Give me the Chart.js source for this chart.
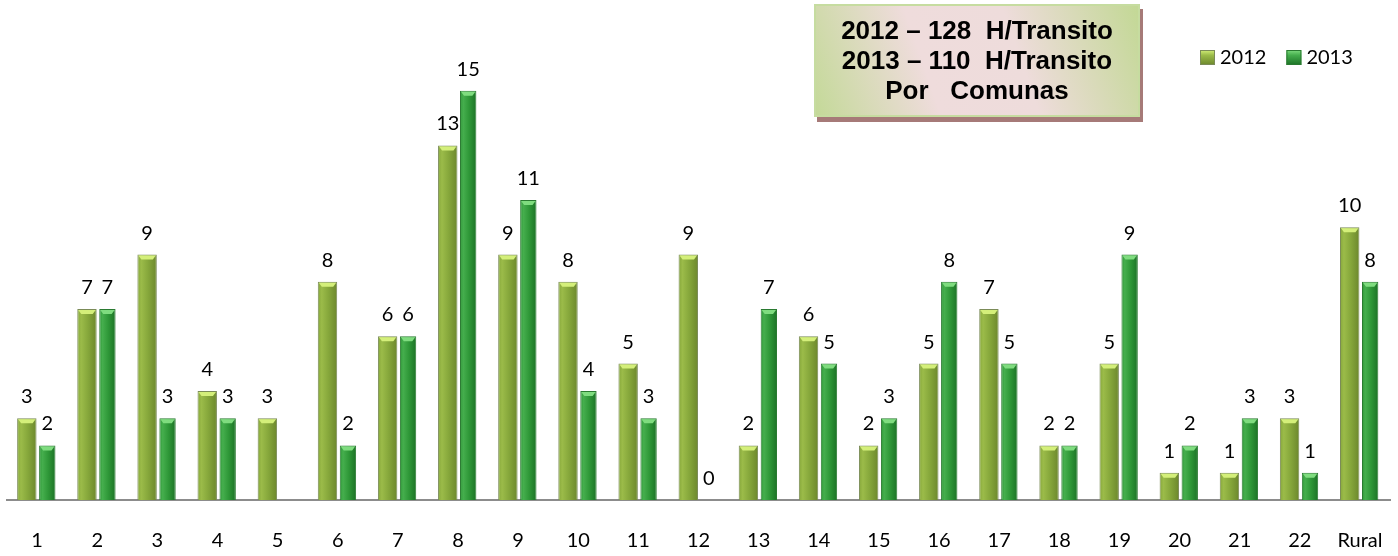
<!DOCTYPE html>
<html lang="es">
<head>
<meta charset="UTF-8">
<title>H/Transito por Comunas</title>
<script src="https://cdn.jsdelivr.net/npm/chart.js"></script>
<style>
  body { margin: 0; background: #fff; }
  #wrap { width: 1398px; height: 556px; position: relative; }
</style>
</head>
<body>
<div id="wrap"><canvas id="chart"></canvas></div>
<script>
// data
const categories = ['1', '2', '3', '4', '5', '6', '7', '8', '9', '10', '11', '12',
  '13', '14', '15', '16', '17', '18', '19', '20', '21', '22', 'Rural'];
const values2012 = [3, 7, 9, 4, 3, 8, 6, 13, 9, 8, 5, 9, 2, 6, 2, 5, 7, 2, 5, 1, 1, 3, 10];
const values2013 = [2, 7, 3, 3, null, 2, 6, 15, 11, 4, 3, 0, 7, 5, 3, 8, 5, 2, 9, 2, 3, 1, 8];
const seriesNames = ['2012', '2013'];
const boxLines = ['2012 – 128  H/Transito', '2013 – 110  H/Transito', 'Por   Comunas'];

// colours per series: dark edge, light side, middle, border, top cap
const palette = [
  { dark: '#6c872c', light: '#9bbb49', mid: '#86a73b', border: '#7b8b58', cap: '#d4ef7a' },
  { dark: '#1c7226', light: '#45ae4d', mid: '#2f9838', border: '#2a7a31', cap: '#7fdc7f' }
];

const FONT = 'Lato, "Open Sans", sans-serif';

function barGradient(ctx, left, right, c) {
  const g = ctx.createLinearGradient(left, 0, right, 0);
  g.addColorStop(0, c.mid);
  g.addColorStop(0.2, c.light);
  g.addColorStop(0.55, c.mid);
  g.addColorStop(1, c.dark);
  return g;
}

// gives every bar its own horizontal shading, based on where the library placed it
const shadePlugin = {
  id: 'shade',
  beforeDatasetsDraw(chart) {
    const ctx = chart.ctx;
    chart.data.datasets.forEach((ds, i) => {
      const c = palette[i];
      chart.getDatasetMeta(i).data.forEach(el => {
        const left = el.x - el.width / 2;
        el.options = Object.assign({}, el.options, {
          backgroundColor: barGradient(ctx, left, left + el.width, c)
        });
      });
    });
  },
  afterDatasetsDraw(chart) {
    const ctx = chart.ctx;
    ctx.save();
    chart.data.datasets.forEach((ds, i) => {
      const c = palette[i];
      chart.getDatasetMeta(i).data.forEach((el, j) => {
        const v = ds.data[j];
        if (v === null || v === undefined) return;
        const left = el.x - el.width / 2;
        const right = el.x + el.width / 2;
        if (v > 0) {
          // bevelled top
          ctx.fillStyle = c.cap;
          ctx.beginPath();
          ctx.moveTo(left + 1, el.y + 1);
          ctx.lineTo(right - 1, el.y + 1);
          ctx.lineTo(right - 4, el.y + 5);
          ctx.lineTo(left + 4, el.y + 5);
          ctx.closePath();
          ctx.fill();
        }
        // value label
        ctx.fillStyle = '#000';
        ctx.font = '20px ' + FONT;
        ctx.textAlign = 'center';
        ctx.textBaseline = 'alphabetic';
        ctx.fillText(String(v), el.x, el.y - 15);
      });
    });
    ctx.restore();
  },
  afterDraw(chart) {
    const ctx = chart.ctx;
    ctx.save();

    // title box
    const bx = 814, by = 4, bw = 326, bh = 113;
    ctx.fillStyle = '#a67a78';
    ctx.fillRect(bx + 3, by + 5, bw, bh);
    const g = ctx.createLinearGradient(bx, by + bh, bx + bw, by);
    g.addColorStop(0, '#c3d997');
    g.addColorStop(0.35, '#efdcdc');
    g.addColorStop(0.62, '#eedcdb');
    g.addColorStop(1, '#c2d894');
    ctx.fillStyle = g;
    ctx.fillRect(bx, by, bw, bh);
    ctx.strokeStyle = '#c6dca0';
    ctx.lineWidth = 2;
    ctx.strokeRect(bx + 1, by + 1, bw - 2, bh - 2);

    ctx.fillStyle = '#000';
    ctx.font = 'bold 26px "Liberation Sans", Arial, sans-serif';
    ctx.textAlign = 'center';
    ctx.textBaseline = 'middle';
    const lineY = [32, 62, 92];
    boxLines.forEach((t, i) => ctx.fillText(t, bx + bw / 2, lineY[i]));

    // legend
    ctx.font = '20px ' + FONT;
    ctx.textAlign = 'left';
    ctx.textBaseline = 'middle';
    let x = 1200;
    const ly = 57;
    chart.data.datasets.forEach((ds, i) => {
      const c = palette[i];
      const sg = ctx.createLinearGradient(0, ly - 7, 0, ly + 8);
      sg.addColorStop(0, c.cap);
      sg.addColorStop(0.35, c.light);
      sg.addColorStop(1, c.dark);
      ctx.fillStyle = sg;
      ctx.fillRect(x, ly - 7, 15, 15);
      ctx.strokeStyle = c.border;
      ctx.lineWidth = 1;
      ctx.strokeRect(x + 0.5, ly - 6.5, 14, 14);
      ctx.fillStyle = '#000';
      ctx.fillText(ds.label, x + 20, ly + 1);
      x += 20 + ctx.measureText(ds.label).width + 20;
    });
    ctx.restore();
  }
};

new Chart(document.getElementById('chart'), {
  type: 'bar',
  data: {
    labels: categories,
    datasets: [
      {
        label: seriesNames[0],
        data: values2012,
        backgroundColor: palette[0].mid,
        borderColor: palette[0].border,
        borderWidth: 1,
        categoryPercentage: 0.68,
        barPercentage: 0.95
      },
      {
        label: seriesNames[1],
        data: values2013,
        backgroundColor: palette[1].mid,
        borderColor: palette[1].border,
        borderWidth: 1,
        categoryPercentage: 0.68,
        barPercentage: 0.8
      }
    ]
  },
  options: {
    responsive: true,
    maintainAspectRatio: false,
    animation: false,
    layout: { padding: { left: 7, right: 8, top: 9, bottom: 0 } },
    plugins: {
      legend: { display: false },
      tooltip: { enabled: false }
    },
    scales: {
      x: {
        grid: {
          display: true,
          color: 'rgba(0,0,0,0)',
          drawOnChartArea: false,
          drawTicks: true,
          tickLength: 24
        },
        border: { display: true, color: '#8c8c8c', width: 2 },
        ticks: {
          color: '#000',
          font: { family: FONT, size: 20 },
          padding: 5,
          maxRotation: 0,
          autoSkip: false
        },
        afterFit(scale) { scale.height = 56; }
      },
      y: {
        display: false,
        min: 0,
        max: 18
      }
    }
  },
  plugins: [shadePlugin]
});
</script>
</body>
</html>
